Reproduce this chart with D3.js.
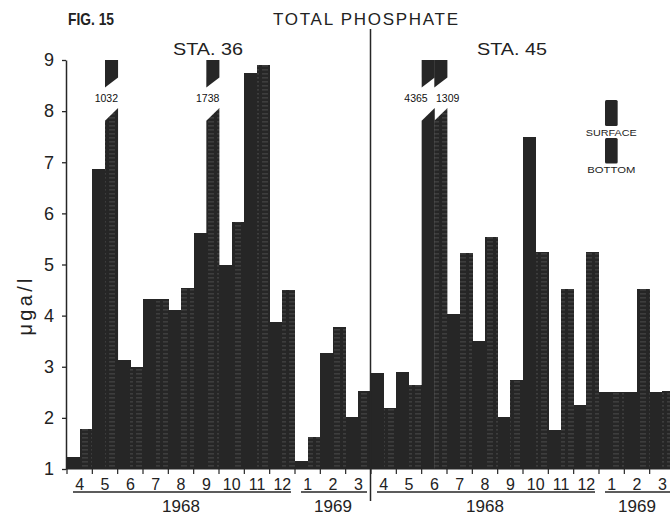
<!DOCTYPE html>
<html><head><meta charset="utf-8">
<script src="https://cdn.jsdelivr.net/npm/d3@7"></script>
<style>body{margin:0;background:#fff}svg{display:block}</style>
</head><body><svg id="c" width="670" height="518"></svg>
<script>
// ---- data ----
const stations = ["STA. 36", "STA. 45"];
const monthLabels = ["4","5","6","7","8","9","10","11","12","1","2","3"];
const yearLabels = ["1968", "1969"];
const yearMonthCounts = [9, 3];
const seriesKeys = ["surface", "bottom"];
const seriesLabels = ["SURFACE", "BOTTOM"];
const surface36 = [1.24, 6.86, 3.13, 4.32, 4.11, 5.62, 5.00, 8.74, 3.88, 1.16, 3.26, 2.01];
const bottom36  = [1.78, 10.32, 3.00, 4.32, 4.54, 17.38, 5.84, 8.90, 4.50, 1.63, 3.77, 2.53];
const surface45 = [2.87, 2.89, 43.65, 4.03, 3.50, 2.02, 7.49, 1.76, 2.25, 2.51, 2.51, 2.51];
const bottom45  = [2.19, 2.64, 13.09, 5.22, 5.53, 2.74, 5.25, 4.52, 5.25, 2.51, 4.52, 2.52];
const yTicks = [1, 2, 3, 4, 5, 6, 7, 8, 9];

const seriesByStation = [
  {surface: surface36, bottom: bottom36},
  {surface: surface45, bottom: bottom45}
];

// ---- setup ----
const svg = d3.select("#c");
const FONT = "'Liberation Sans', Arial, sans-serif";
const INK = "#262626";

const monthKeys = [];
stations.forEach((s, si) => monthLabels.forEach((m, mi) => monthKeys.push(si + "-" + mi)));

const xMonth = d3.scaleBand().domain(monthKeys).range([67, 675]).padding(0);
const xSeries = d3.scaleBand().domain(seriesKeys).range([0, xMonth.bandwidth()]).padding(0);
const y = d3.scaleLinear().domain([1, 9]).range([469, 60]);

// stripe pattern for bottom bars (print texture)
const defs = svg.append("defs");
const pat = defs.append("pattern").attr("id", "stripe").attr("patternUnits", "userSpaceOnUse")
  .attr("width", 9).attr("height", 4);
pat.append("rect").attr("width", 9).attr("height", 4).attr("fill", INK);
pat.append("rect").attr("x", 1).attr("y", 1.5).attr("width", 6).attr("height", 0.8)
  .attr("fill", "#9a9a9a").attr("opacity", 0.4);

// bar records
const bars = [];
stations.forEach((s, si) => {
  monthLabels.forEach((m, mi) => {
    seriesKeys.forEach(k => {
      bars.push({si, mi, key: si + "-" + mi, series: k, value: seriesByStation[si][k][mi]});
    });
  });
});

const maxV = y.domain()[1];
const breakTop = [8.46, 8.66];     // lower edge of top piece (left,right)
const breakBottom = [7.81, 8.06];  // upper edge of bottom piece (left,right)

const gBars = svg.append("g");
bars.forEach(d => {
  const x0 = xMonth(d.key) + xSeries(d.series);
  const x1 = x0 + xSeries.bandwidth() + 0.4;
  const fill = d.series === "bottom" ? "url(#stripe)" : INK;
  if (d.value <= maxV) {
    gBars.append("rect").attr("x", x0).attr("y", y(d.value))
      .attr("width", x1 - x0).attr("height", y(1) - y(d.value))
      .attr("fill", fill).attr("shape-rendering", "crispEdges");
  } else {
    const top = d3.path();
    top.moveTo(x0, y(maxV)); top.lineTo(x1, y(maxV));
    top.lineTo(x1, y(breakTop[1])); top.lineTo(x0, y(breakTop[0])); top.closePath();
    const bot = d3.path();
    bot.moveTo(x0, y(1)); bot.lineTo(x0, y(breakBottom[0]));
    bot.lineTo(x1, y(breakBottom[1])); bot.lineTo(x1, y(1)); bot.closePath();
    gBars.append("path").attr("d", top.toString()).attr("fill", INK);
    gBars.append("path").attr("d", bot.toString()).attr("fill", fill);
  }
});

// break labels
bars.filter(d => d.value > maxV).forEach(d => {
  const partner = bars.find(b => b.key === d.key && b.series !== d.series);
  const pairBroken = partner.value > maxV;
  let off = -5;
  if (pairBroken) off = d.series === "surface" ? -12 : 7;
  const cx = xMonth(d.key) + xSeries(d.series) + xSeries.bandwidth() / 2 + off;
  svg.append("text").attr("x", cx).attr("y", y((breakTop[0] + breakBottom[1]) / 2))
    .attr("text-anchor", "middle").attr("dominant-baseline", "central")
    .attr("font-family", FONT).attr("font-size", 10.5).attr("fill", "#111")
    .text(d3.format(".2f")(d.value).replace(".", ""));
});

// baseline
svg.append("line").attr("x1", 66).attr("x2", 675).attr("y1", y(1)).attr("y2", y(1))
  .attr("stroke", INK).attr("stroke-width", 1);

// y axis
const yAxis = svg.append("g").attr("transform", "translate(66,0)")
  .call(d3.axisLeft(y).tickValues(yTicks).tickSize(4).tickSizeOuter(0).tickPadding(8).tickFormat(d3.format("d")));
yAxis.select(".domain").attr("stroke", INK).attr("stroke-width", 1.5);
yAxis.selectAll(".tick line").attr("stroke", INK).attr("stroke-width", 1.3);
yAxis.selectAll(".tick text").attr("font-family", FONT).attr("font-size", 18).attr("fill", "#222");

svg.append("text").attr("transform", "translate(25,307) rotate(-90)")
  .attr("text-anchor", "middle").attr("dominant-baseline", "central")
  .attr("font-family", FONT).attr("font-size", 20).attr("fill", "#222")
  .attr("textLength", 57).attr("lengthAdjust", "spacing").text("μga/l");

// month ticks & labels
const gx = svg.append("g");
monthKeys.forEach(k => {
  gx.append("line").attr("x1", xMonth(k)).attr("x2", xMonth(k))
    .attr("y1", y(1)).attr("y2", y(1) + 5).attr("stroke", INK).attr("stroke-width", 1.2);
});
monthKeys.forEach((k, i) => {
  gx.append("text").attr("x", xMonth(k) + xMonth.bandwidth() / 2).attr("y", 484)
    .attr("text-anchor", "middle").attr("dominant-baseline", "central")
    .attr("font-family", FONT).attr("font-size", 16).attr("fill", "#222")
    .text(monthLabels[i % monthLabels.length]);
});

// year underlines & labels
stations.forEach((s, si) => {
  let start = 0;
  yearLabels.forEach((yr, yi) => {
    const first = si + "-" + start;
    const last = si + "-" + (start + yearMonthCounts[yi] - 1);
    const xa = xMonth(first) + 6, xb = xMonth(last) + xMonth.bandwidth() - 4;
    gx.append("line").attr("x1", xa).attr("x2", xb).attr("y1", 492).attr("y2", 492)
      .attr("stroke", INK).attr("stroke-width", 1.4);
    gx.append("text").attr("x", (xMonth(first) + xMonth(last) + xMonth.bandwidth()) / 2).attr("y", 506)
      .attr("text-anchor", "middle").attr("dominant-baseline", "central")
      .attr("font-family", FONT).attr("font-size", 17).attr("fill", "#222").text(yr);
    start += yearMonthCounts[yi];
  });
});

// station divider
const divX = xMonth("1-0") - 0.5;
svg.append("line").attr("x1", divX).attr("x2", divX).attr("y1", 29).attr("y2", 501)
  .attr("stroke", INK).attr("stroke-width", 1.5);

// station labels
stations.forEach((s, si) => {
  const a = xMonth(si + "-0"), b = xMonth(si + "-" + (monthLabels.length - 1)) + xMonth.bandwidth();
  svg.append("text").attr("x", (a + b) / 2 - 11).attr("y", 49)
    .attr("text-anchor", "middle").attr("dominant-baseline", "central")
    .attr("font-family", FONT).attr("font-size", 17).attr("fill", "#222")
    .attr("textLength", 70).attr("lengthAdjust", "spacingAndGlyphs").text(s);
});

// titles
svg.append("text").attr("x", 68).attr("y", 19).attr("dominant-baseline", "central")
  .attr("font-family", FONT).attr("font-size", 17).attr("font-weight", "bold").attr("fill", "#222")
  .attr("textLength", 46).attr("lengthAdjust", "spacingAndGlyphs").text("FIG. 15");
svg.append("text").attr("x", 365.5).attr("y", 19).attr("text-anchor", "middle").attr("dominant-baseline", "central")
  .attr("font-family", FONT).attr("font-size", 17).attr("fill", "#222")
  .attr("textLength", 185).attr("lengthAdjust", "spacing").text("TOTAL PHOSPHATE");

// legend
const legX = 605;
const legItems = [{y0: 100, y1: 126, ty: 132}, {y0: 138, y1: 163.5, ty: 169.5}];
seriesKeys.forEach((k, i) => {
  const it = legItems[i];
  svg.append("rect").attr("x", legX).attr("y", it.y0).attr("width", xSeries.bandwidth())
    .attr("height", it.y1 - it.y0).attr("rx", 1.5).attr("fill", INK);
  svg.append("text").attr("x", legX + xSeries.bandwidth() / 2).attr("y", it.ty)
    .attr("text-anchor", "middle").attr("dominant-baseline", "central")
    .attr("font-family", FONT).attr("font-size", 9.5).attr("fill", "#222")
    .attr("textLength", i === 0 ? 51 : 48).attr("lengthAdjust", "spacingAndGlyphs")
    .text(seriesLabels[i]);
});
</script></body></html>
